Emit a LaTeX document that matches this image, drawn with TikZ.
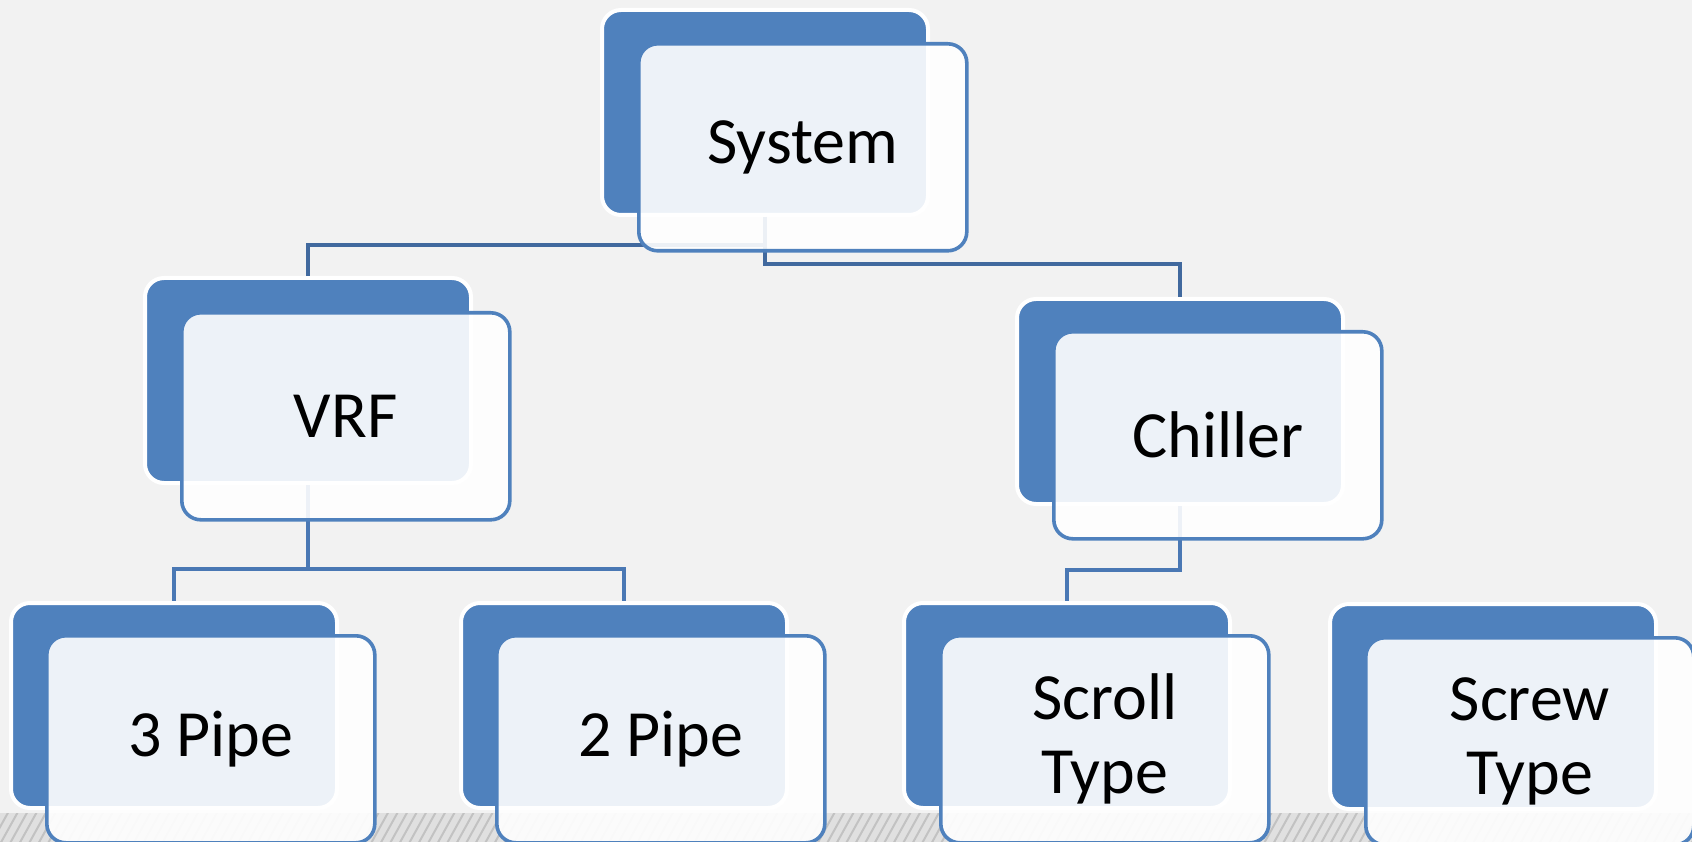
\documentclass[tikz,border=0pt]{standalone}
\usepackage{fontspec}
\setmainfont{Carlito}
\begin{document}
\begin{tikzpicture}[x=1pt,y=-1pt,
  backbox/.style={draw=white,line width=4pt,fill=accent,rounded corners=19pt},
  frontbox/.style={draw=accent,line width=3.6pt,fill=white,fill opacity=0.9,
    rounded corners=19pt,minimum width=328pt,minimum height=207pt,
    text opacity=1,font=\fontsize{66}{74}\selectfont,align=center,anchor=north west},
  linkA/.style={draw=linkdark,line width=3.6pt,line join=miter},
  linkB/.style={draw=linklight,line width=3.6pt,line join=miter},
]
\definecolor{accent}{HTML}{4F81BD}
\definecolor{linkdark}{HTML}{41699E}
\definecolor{linklight}{HTML}{4A78B4}
\definecolor{canvas}{HTML}{F2F2F2}
\definecolor{strip}{HTML}{E0E0E0}
\definecolor{hatch}{HTML}{C2C2C2}

% canvas and bounding box
\useasboundingbox (0,0) rectangle (1692,842);
\clip (0,0) rectangle (1692,842);
\fill[canvas] (0,0) rectangle (1692,842);

% hatched floor strip
\fill[strip] (0,813) rectangle (1692,842);
\begin{scope}
  \clip (0,813) rectangle (1692,842);
  \foreach \k in {0,...,200}{
    \draw[hatch,line width=2pt] ({\k*9.5-20},846) -- ({\k*9.5},810);
  }
\end{scope}

% back panels (anchors for connectors)
\foreach \n/\x/\y in {sysB/600/8, vrfB/143/276, chlB/1015/297,
                      p3B/9/601, p2B/459/601, scrB/902/601, scwB/1328/602}{
  \node[backbox,minimum width=326pt,minimum height=205pt,anchor=north west,inner sep=0pt]
    (\n) at (\x,\y) {};
}

% connectors
\coordinate (jA) at (sysB.south |- 0,245);
\coordinate (jB) at (sysB.south |- 0,264);
\draw[linkA] (sysB.south) -- (jA) -| (vrfB.north);
\draw[linkA] (sysB.south) -- (jB) -| (chlB.north);
\coordinate (jC) at (vrfB.south |- 0,569);
\draw[linkB] (vrfB.south) -- (jC) -| (p3B.north);
\draw[linkB] (jC) -| (p2B.north);
\coordinate (jD) at (chlB.south |- 0,570);
\draw[linkB] (chlB.south) -- (jD) -| (scrB.north);

% front panels with labels
\node[frontbox] (sys) at (637,42)   {System};
\node[frontbox] (vrf) at (180,311)  {VRF};
\node[frontbox] (chl) at (1052,330) {Chiller};
\node[frontbox] (p3)  at (45,634)   {3 Pipe};
\node[frontbox] (p2)  at (495,634)  {2 Pipe};
\node[frontbox] (scr) at (939,634)  {Scroll\\Type};
\node[frontbox] (scw) at (1364,636) {Screw\\Type};
\end{tikzpicture}
\end{document}
